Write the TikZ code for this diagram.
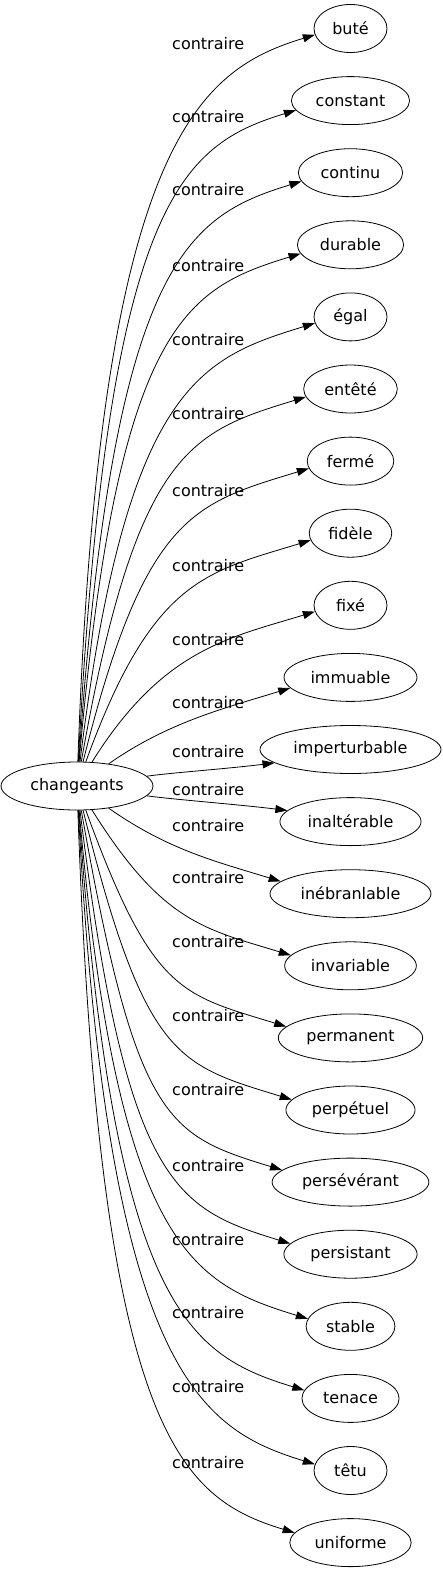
\documentclass[tikz,border=0pt]{standalone}
\usepackage{fontspec}
\setmainfont{DejaVu Sans}
\usetikzlibrary{arrows.meta,shapes.geometric}

\begin{document}
\begin{tikzpicture}[x=1pt,y=1pt,
    word/.style={draw,ellipse,line width=0.8pt,minimum height=48pt,minimum width=73pt,inner xsep=7pt,font=\fontsize{16}{19}\selectfont},
    rel/.style={anchor=west,inner sep=0pt,font=\fontsize{16}{19}\selectfont},
    link/.style={-{Triangle[length=12pt,width=8pt]},line width=0.8pt}]
  \useasboundingbox (0,0) rectangle (443,-1571);
  % source word
  \node[word] (src) at (77,-786) {changeants};
  % opposite words
  \foreach \w [count=\i from 0] in {buté,constant,continu,durable,égal,entêté,fermé,fidèle,fixé,immuable,imperturbable,inaltérable,inébranlable,invariable,permanent,perpétuel,persévérant,persistant,stable,tenace,têtu,uniforme}
    \node[word] (w\i) at (350.5,{-28.5-72.1*\i}) {\w};
  % edge labels
  \foreach \i/\ly in {0/44,1/117,2/190,3/266,4/340,5/414,6/491,7/566,8/640,9/703,10/752,11/790,12/826,13/878,14/942,15/1016,16/1090,17/1166,18/1240,19/1313,20/1387,21/1463}
    \node[rel] (l\i) at (172,-\ly) {contraire};
  % edges
  \foreach \i in {0,...,21} {
    \pgfmathtruncatemacro\kk{\i<11 ? 10-\i : \i-11}
    \pgfmathsetmacro\sg{\i<11 ? 1 : -1}
    \pgfmathsetmacro\base{{8,35,58,70,76,80,83,85,86,87,88}[\kk]}
    \pgfmathsetmacro\ao{\sg*\base}
    \pgfmathsetmacro\ai{\kk==0 ? 180+7*\sg : 180+17*\sg}
    \pgfmathsetmacro\ae{180+10*\sg}
    \pgfmathsetmacro\lo{max(25,0.85*72.1*(\kk+0.5)-20)}
    \pgfmathsetmacro\li{min(120,40+20*(\kk+0.5))}
    \draw[link] (src.\ao) .. controls +(\ao:\lo) and +(\ai:\li) .. (w\i.\ae);
  }
\end{tikzpicture}
\end{document}
